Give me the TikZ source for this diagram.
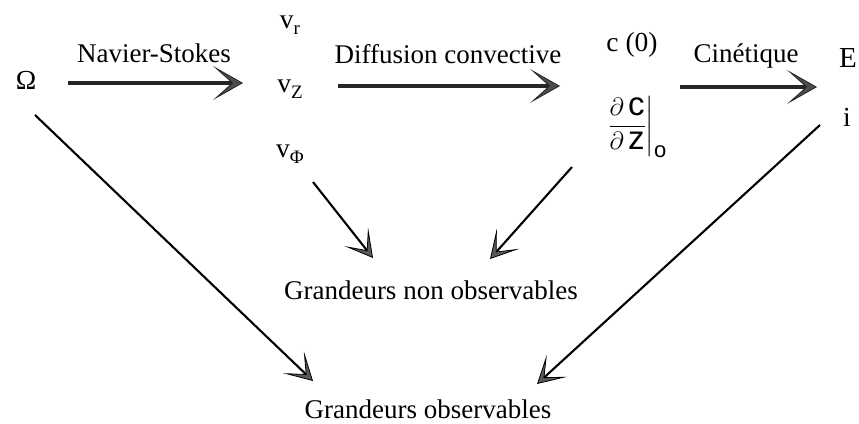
\documentclass[tikz,border=0pt]{standalone}
\usepackage{amsmath}
\usepackage{fontspec}
\setmainfont{Liberation Serif}
\setsansfont{Liberation Sans}
\usetikzlibrary{arrows.meta}
\tikzset{
  lbl/.style={inner sep=0pt, font=\fontsize{27}{30}\selectfont},
  big/.style={inner sep=0pt, font=\fontsize{27.5}{30}\selectfont},
  hbar/.style={draw=black!85, line width=3.8pt, -{Stealth[length=30pt,width=34pt,inset=19pt,fill=black!70,line width=0.8pt]}},
  diag/.style={draw=black, line width=2.1pt, -{Stealth[length=27pt,width=30pt,inset=17pt,fill=black!65,line width=0.8pt]}}
}
\newcommand{\vsub}[1]{v\raisebox{-6pt}{\fontsize{19}{20}\selectfont #1}}
\begin{document}
\begin{tikzpicture}[x=1pt,y=-1pt]
\useasboundingbox (0,0) rectangle (859,423);
\node[big] (omega) at (26,80) {Ω};
\node[big] (vr) at (290,25) {\vsub{r}};
\node[big] (vz) at (290,89) {\vsub{Z}};
\node[big] (vphi) at (290,154) {\vsub{Φ}};
\node[big] (c0) at (632,45) {c (0)};
\node[big,font=\fontsize{33}{36}\selectfont] (dcdz) at (637,127) {$\displaystyle\left.\frac{\partial\,\mbox{\sffamily c}}{\partial\,\mbox{\sffamily z}}\right|_{\mbox{\sffamily\fontsize{22}{24}\selectfont o}}$};
\node[big,font=\fontsize{29}{32}\selectfont] (E) at (848,58) {E};
\node[big] (i) at (847,117) {i};
\node[lbl] (ns) at (154,53) {Navier-Stokes};
\node[lbl] (dc) at (448,54) {Diffusion convective};
\node[lbl] (cin) at (746,56) {Cinétique};
\node[lbl] (nonobs) at (431,290) {Grandeurs non observables};
\node[lbl] (obs) at (428,409) {Grandeurs observables};
\draw[hbar] ([shift={(42,3)}]omega.center) -- ([shift={(-47,-6)}]vz.center);
\draw[hbar] ([shift={(48,-3)}]vz.center) -- ([shift={(-72,41)}]c0.center);
\draw[hbar] ([shift={(43,-40)}]dcdz.center) -- ([shift={(-31,29)}]E.center);
\draw[diag] ([shift={(9,35)}]omega.center) -- ([shift={(-115,-28)}]obs.center);
\draw[diag] ([shift={(23,28)}]vphi.center) -- ([shift={(-58,-32)}]nonobs.center);
\draw[diag] ([shift={(-65,40)}]dcdz.center) -- ([shift={(59,-31)}]nonobs.center);
\draw[diag] ([shift={(-27,8)}]i.center) -- ([shift={(109,-25)}]obs.center);
\end{tikzpicture}
\end{document}
